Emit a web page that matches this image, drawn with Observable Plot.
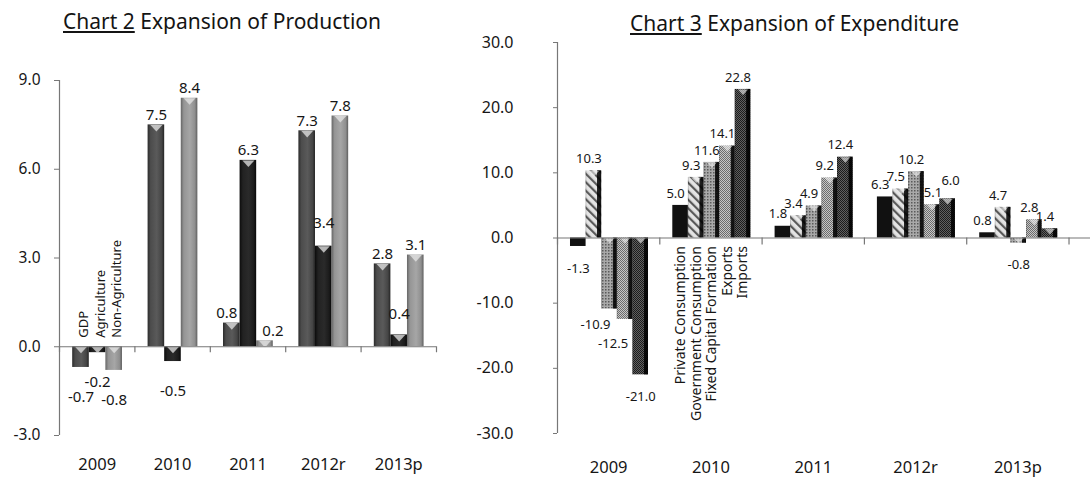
<!DOCTYPE html>
<html>
<head>
<meta charset="utf-8">
<script src="https://cdn.jsdelivr.net/npm/d3@7"></script>
<script src="https://cdn.jsdelivr.net/npm/@observablehq/plot@0.6"></script>
<style>
  html, body { margin: 0; padding: 0; background: #fff; }
  body { font-family: "Noto Sans", sans-serif; color: #1a1a1a; }
  #wrap { position: relative; width: 1091px; height: 479px; overflow: hidden; }
  .chart { position: absolute; top: 0; }
  .title { position: absolute; font-size: 21px; line-height: 21px; white-space: nowrap; color: #141414; }
  .title u { text-decoration-thickness: 1.5px; text-underline-offset: 2px; }
  svg { overflow: visible; }
  g[aria-label="y-axis tick"] { color: #777; }
</style>
</head>
<body>
<svg width="0" height="0" style="position:absolute">
  <defs>
    <linearGradient id="gGDP" x1="0" x2="1" y1="0" y2="0">
      <stop offset="0" stop-color="#2b2b2b"/><stop offset="0.18" stop-color="#4c4c4c"/>
      <stop offset="0.55" stop-color="#5a5a5a"/><stop offset="0.85" stop-color="#454545"/>
      <stop offset="1" stop-color="#242424"/>
    </linearGradient>
    <linearGradient id="gAgr" x1="0" x2="1" y1="0" y2="0">
      <stop offset="0" stop-color="#0c0c0c"/><stop offset="0.2" stop-color="#222"/>
      <stop offset="0.55" stop-color="#2a2a2a"/><stop offset="0.85" stop-color="#1b1b1b"/>
      <stop offset="1" stop-color="#080808"/>
    </linearGradient>
    <linearGradient id="gNon" x1="0" x2="1" y1="0" y2="0">
      <stop offset="0" stop-color="#666"/><stop offset="0.18" stop-color="#959595"/>
      <stop offset="0.55" stop-color="#a6a6a6"/><stop offset="0.85" stop-color="#8f8f8f"/>
      <stop offset="1" stop-color="#5e5e5e"/>
    </linearGradient>
    <pattern id="pGov" width="6" height="6" patternUnits="userSpaceOnUse" patternTransform="rotate(-45)">
      <rect width="6" height="6" fill="#e4e4e4"/><rect width="2.2" height="6" fill="#595959"/>
    </pattern>
    <pattern id="pFCF" width="3" height="3" patternUnits="userSpaceOnUse">
      <rect width="3" height="3" fill="#a9a9a9"/><rect width="1.5" height="1.5" fill="#5a5a5a"/>
    </pattern>
    <pattern id="pExp" width="2" height="2" patternUnits="userSpaceOnUse">
      <rect width="2" height="2" fill="#c6c6c6"/><rect width="1" height="1" fill="#6c6c6c"/>
      <rect x="1" y="1" width="1" height="1" fill="#6c6c6c"/>
    </pattern>
    <pattern id="pImp" width="2" height="2" patternUnits="userSpaceOnUse">
      <rect width="2" height="2" fill="#606060"/><rect width="1" height="1" fill="#1c1c1c"/>
      <rect x="1" y="1" width="1" height="1" fill="#1c1c1c"/>
    </pattern>
    <linearGradient id="shadeR" x1="0" x2="1" y1="0" y2="0">
      <stop offset="0" stop-color="#000" stop-opacity="0.25"/>
      <stop offset="0.08" stop-color="#000" stop-opacity="0"/>
      <stop offset="0.72" stop-color="#000" stop-opacity="0"/>
      <stop offset="0.76" stop-color="#000" stop-opacity="0.85"/>
      <stop offset="1" stop-color="#000" stop-opacity="0.92"/>
    </linearGradient>
  </defs>
</svg>
<div id="wrap">
  <div class="chart" id="c2" style="left:0;width:470px;height:479px;">
    <div class="title" style="left:63px;top:11px;"><u>Chart 2</u> Expansion of Production</div>
  </div>
  <div class="chart" id="c3" style="left:470px;width:621px;height:479px;">
    <div class="title" style="left:160px;top:13px;"><u>Chart 3</u> Expansion of Expenditure</div>
  </div>
</div>
<script>
// ---------- data ----------
const years = ["2009", "2010", "2011", "2012r", "2013p"];

const prodSeries = ["GDP", "Agriculture", "Non-Agriculture"];
const gdp            = [-0.7, 7.5, 0.8, 7.3, 2.8];
const agriculture    = [-0.2, -0.5, 6.3, 3.4, 0.4];
const nonAgriculture = [-0.8, 8.4, 0.2, 7.8, 3.1];
const prodTicks = [-3, 0, 3, 6, 9];

const expSeries = ["Private Consumption", "Government Consumption", "Fixed Capital Formation", "Exports", "Imports"];
const privateConsumption    = [-1.3, 5.0, 1.8, 6.3, 0.8];
const governmentConsumption = [10.3, 9.3, 3.4, 7.5, 4.7];
const fixedCapitalFormation = [-10.9, 11.6, 4.9, 10.2, -0.8];
const exportsGrowth         = [-12.5, 14.1, 9.2, 5.1, 2.8];
const importsGrowth         = [-21.0, 22.8, 12.4, 6.0, 1.4];
const expTicks = [-30, -20, -10, 0, 10, 20, 30];

// ---------- tables ----------
function rowsOf(series, arrays) {
  const rows = [];
  years.forEach((year, yi) => series.forEach((s, si) =>
    rows.push({year, yi, series: s, si, value: arrays[si][yi]})));
  return rows;
}
const prodRows = rowsOf(prodSeries, [gdp, agriculture, nonAgriculture]);
const expRows = rowsOf(expSeries, [privateConsumption, governmentConsumption, fixedCapitalFormation, exportsGrowth, importsGrowth]);
const fmt = v => v.toFixed(1);
const boundaries = years.map((_, i) => i).concat([years.length]);

// downward-pointing "top face" highlight of the 3-D columns
const topFace = {
  draw(context, size) {
    const r = Math.sqrt(size / Math.PI);
    context.moveTo(-r, -r * 0.5);
    context.lineTo(r, -r * 0.5);
    context.lineTo(0, r * 0.6);
    context.closePath();
  }
};

function makeChart(cfg) {
  const {rows, series, fills, ticks, yDomain, xMax, W, P} = cfg;
  const bx1 = d => d.yi + P + d.si * W;
  const bx2 = d => d.yi + P + (d.si + 1) * W;
  const bxc = d => d.yi + P + (d.si + 0.5) * W;
  const key = d => d.year + "|" + d.series;
  const nudges = cfg.nudges || {};
  const plain = rows.filter(d => !(key(d) in nudges));
  const labelOpts = {x: bxc, y: "value", text: d => fmt(d.value), fontSize: cfg.valueSize, fill: "#161616"};
  const marks = [
    Plot.ruleX([0], {stroke: "#777", strokeWidth: 1.2}),
    Plot.rect(rows, {x1: bx1, x2: bx2, y1: 0, y2: "value", fill: "series"}),
  ];
  if (cfg.shade) marks.push(Plot.rect(rows.filter(d => d.si > 0), {x1: bx1, x2: bx2, y1: 0, y2: "value", fill: cfg.shade}));
  marks.push(
    Plot.dot(rows.filter(cfg.faceFilter), {x: bxc, y: d => Math.max(d.value, 0), symbol: topFace, r: cfg.faceR,
      dy: cfg.faceR * 0.5, fill: cfg.faceFill, fillOpacity: cfg.faceOpacity, stroke: "none"}),
    Plot.ruleY([0], {stroke: "#777", strokeWidth: 1.2}),
    Plot.ruleX(boundaries, {x: d => d, y1: 0, y2: 0, insetBottom: -cfg.boundaryTick, stroke: "#777", strokeWidth: 1.2}),
    Plot.text(plain.filter(d => d.value >= 0), {...labelOpts, dx: cfg.posDx, dy: cfg.posDy}),
    Plot.text(plain.filter(d => d.value < 0), {...labelOpts, dx: cfg.negDx, dy: cfg.negDy}),
    ...Object.entries(nudges).map(([k, [dx, dy]]) =>
      Plot.text(rows.filter(d => key(d) === k), {...labelOpts, dx, dy})),
    Plot.text(series, {
      x: (d, i) => cfg.legendGroup + P + (i + 0.5) * W, y: 0, text: d => d,
      rotate: -90, textAnchor: cfg.legendAnchor, dy: cfg.legendDy, dx: cfg.legendDx,
      fontSize: cfg.legendSize, fill: "#161616"
    }),
    // category (year) labels under the plot frame
    Plot.text(years, {x: (d, i) => i + 0.5, frameAnchor: "bottom", lineAnchor: "top", dy: cfg.xPad,
      text: d => d, fontSize: 16.5, fill: "#161616"})
  );
  return Plot.plot({
    width: cfg.width, height: cfg.height,
    marginTop: cfg.mt, marginBottom: cfg.mb, marginLeft: cfg.ml, marginRight: cfg.mr,
    style: {fontFamily: '"Noto Sans", sans-serif', fontSize: cfg.tickFont, color: "#161616", background: "transparent", overflow: "visible"},
    x: {domain: [0, xMax], axis: null},
    y: {domain: yDomain, ticks, tickFormat: fmt, tickSize: cfg.yTickSize, tickPadding: cfg.yPad, label: null},
    color: {domain: series, range: fills},
    marks
  });
}

const chart2 = makeChart({
  rows: prodRows, series: prodSeries, fills: ["url(#gGDP)", "url(#gAgr)", "url(#gNon)"],
  ticks: prodTicks, yDomain: [-3, 9], xMax: years.length, W: 0.22, P: 0.175,
  width: 470, height: 443, mt: 44, mb: 44, ml: 59, mr: 34, tickFont: "15.5px",
  yTickSize: 5, yPad: 14, xPad: 23, boundaryTick: 6,
  valueSize: 15, posDx: 0, posDy: -10, negDx: 0, negDy: 30,
  nudges: {"2011|GDP": [-5, -10], "2011|Non-Agriculture": [8, -10], "2012r|Agriculture": [0, -23], "2013p|Agriculture": [0, -21]},
  faceFilter: d => true, faceR: 6, faceFill: "#e6e6e6", faceOpacity: 0.75,
  legendGroup: 0, legendAnchor: "start", legendDy: -9, legendDx: 3, legendSize: 13
});
chart2.style.position = "absolute"; chart2.style.top = "36px"; chart2.style.left = "0px";
document.getElementById("c2").appendChild(chart2);

const chart3 = makeChart({
  rows: expRows, series: expSeries, fills: ["#111", "url(#pGov)", "url(#pFCF)", "url(#pExp)", "url(#pImp)"],
  ticks: expTicks, yDomain: [-30, 30], xMax: 5.21, W: 0.1525, P: 0.127, shade: "url(#shadeR)",
  width: 621, height: 445, mt: 8, mb: 46, ml: 87, mr: 1, tickFont: "16px",
  yTickSize: 4, yPad: 40, xPad: 28, boundaryTick: 7,
  valueSize: 13, posDx: -5, posDy: -12, negDx: 0, negDy: 22,
  nudges: {"2009|Fixed Capital Formation": [-14, 16], "2009|Exports": [-12, 24], "2012r|Exports": [1, -12], "2012r|Imports": [3, -18]},
  faceFilter: d => d.si > 0, faceR: 5, faceFill: "#f2f2f2", faceOpacity: 0.6,
  legendGroup: 1, legendAnchor: "end", legendDy: 8, legendDx: 0, legendSize: 14
});
chart3.style.position = "absolute"; chart3.style.top = "34px"; chart3.style.left = "0px";
document.getElementById("c3").appendChild(chart3);
</script>
</body>
</html>
